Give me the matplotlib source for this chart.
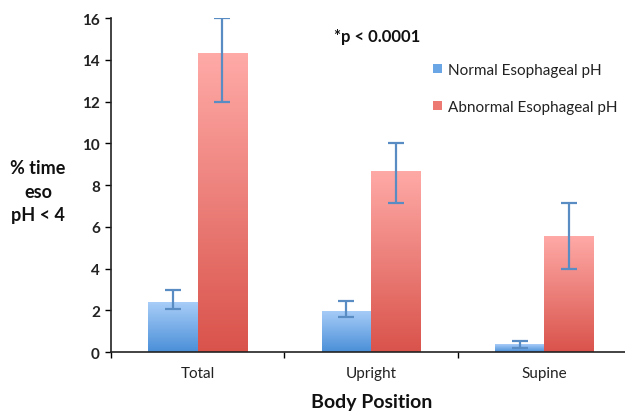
import numpy as np
import matplotlib
matplotlib.use("Agg")
import matplotlib.pyplot as plt
from matplotlib.patches import Patch
from matplotlib.colors import LinearSegmentedColormap

plt.rcParams['font.family'] = ['Lato', 'DejaVu Sans']

categories = ["Total", "Upright", "Supine"]
series_names = ["Normal Esophageal pH", "Abnormal Esophageal pH"]
normal_vals = [2.38, 1.98, 0.38]
normal_err_low = [0.32, 0.29, 0.20]
normal_err_high = [0.59, 0.45, 0.16]
abnormal_vals = [14.3, 8.69, 5.57]
abnormal_err_low = [2.34, 1.57, 1.59]
abnormal_err_high = [1.70, 1.31, 1.58]
yticks = [0, 2, 4, 6, 8, 10, 12, 14, 16]

fig = plt.figure(figsize=(6.25, 4.14), dpi=100)
ax = fig.add_axes([0.1776, 0.1473, 0.832, 0.8068])

bw = 0.285
x = np.arange(len(categories))
blue_cmap = LinearSegmentedColormap.from_list("b", ["#4a8fd8", "#a8cdf8"])
red_cmap = LinearSegmentedColormap.from_list("r", ["#d9534b", "#ffaaa7"])
grad = np.linspace(0, 1, 256).reshape(-1, 1)

def grad_bars(xs, vals, cmap):
    bars = ax.bar(xs, vals, width=bw, color="none", edgecolor="none", zorder=2)
    for b in bars:
        x0 = b.get_x(); w = b.get_width(); h = b.get_height()
        im = ax.imshow(grad, extent=[x0, x0 + w, 0, h], origin="lower",
                       aspect="auto", cmap=cmap, zorder=2)
        im.set_clip_path(b)
    return bars

grad_bars(x - bw / 2, normal_vals, blue_cmap)
grad_bars(x + bw / 2, abnormal_vals, red_cmap)

ekw = dict(fmt="none", ecolor="#5a8cc4", elinewidth=1.6, capsize=5.5, capthick=1.6, zorder=3)
ax.errorbar(x - bw / 2, normal_vals, yerr=[normal_err_low, normal_err_high], **ekw)
ax.errorbar(x + bw / 2, abnormal_vals, yerr=[abnormal_err_low, abnormal_err_high], **ekw)

ax.set_xlim(-0.5, 2.5)
ax.set_ylim(0, 16)
ax.set_yticks(yticks)
ax.set_yticklabels([str(t) for t in yticks], fontsize=11, fontweight="bold", color="#222222")
ax.set_xticks([-0.5, 0.5, 1.5, 2.5])
ax.set_xticklabels([])
ax.set_xticks(x, minor=True)
ax.set_xticklabels(categories, minor=True, fontsize=11, color="#222222")
ax.tick_params(axis="x", which="minor", length=0, pad=10)
ax.tick_params(axis="x", which="major", length=4, direction="out", width=1)
ax.tick_params(axis="y", length=4, direction="out", width=1, pad=4)
for s in ["top", "right"]:
    ax.spines[s].set_visible(False)
ax.spines["left"].set_color("#222222")
ax.spines["bottom"].set_color("#222222")
ax.spines["left"].set_linewidth(1.2)
ax.spines["bottom"].set_linewidth(1.2)
ax.set_facecolor("none")

fig.text(38 / 625, 1 - 192 / 414, "% time\neso\npH < 4", ha="center", va="center",
         fontsize=13, fontweight="bold", color="#111111", linespacing=1.5)
fig.text(372 / 625, 1 - 403 / 414, "Body Position", ha="center", va="center",
         fontsize=14, fontweight="bold", color="#111111")
fig.text(377 / 625, 1 - 37 / 414, "*p < 0.0001", ha="center", va="center",
         fontsize=12, fontweight="bold", color="#111111")

handles = [Patch(facecolor="#6aa6e6", edgecolor="none"), Patch(facecolor="#ec7a73", edgecolor="none")]
leg = fig.legend(handles, series_names, loc="upper left", bbox_to_anchor=(433 / 625, 1 - 64 / 414),
                 frameon=False, fontsize=11, handlelength=0.6, handleheight=0.6,
                 handletextpad=0.35, labelspacing=1.5, borderaxespad=0, borderpad=0)
for t in leg.get_texts():
    t.set_color("#222222")

fig.savefig("out.png", dpi=100)
